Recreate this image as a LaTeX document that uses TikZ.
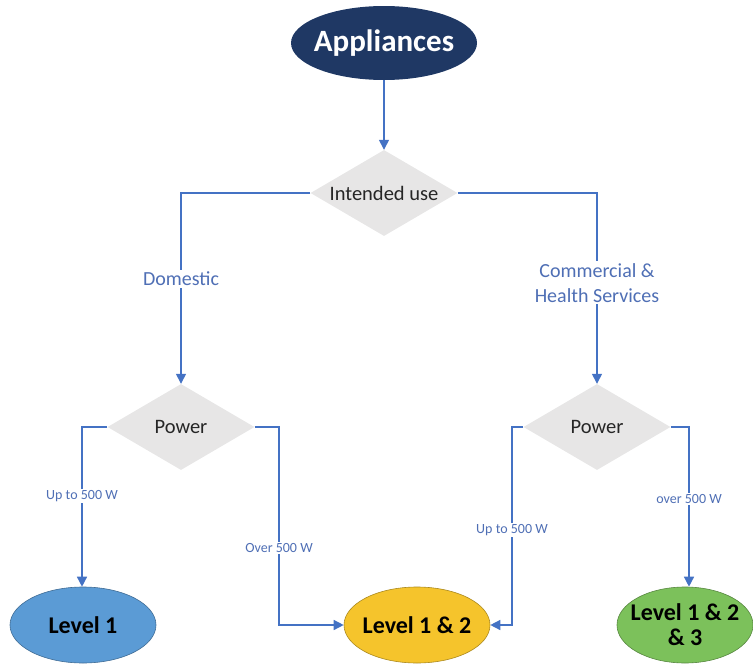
\documentclass[tikz,border=0pt]{standalone}
\usepackage{fontspec}
\setmainfont{Carlito}
\usetikzlibrary{shapes.geometric,arrows.meta}
\definecolor{navy}{HTML}{1F3864}
\definecolor{linkblue}{HTML}{4472C4}
\definecolor{labelblue}{HTML}{4F6FB5}
\definecolor{decgray}{HTML}{E7E6E6}
\definecolor{lvlblue}{HTML}{5B9BD5}
\definecolor{lvlyellow}{HTML}{F5C42C}
\definecolor{lvlgreen}{HTML}{7CC15B}
\tikzset{
  decision/.style={diamond, fill=decgray, minimum width=147pt, minimum height=86pt, aspect=1.7, inner sep=0pt, font=\fontsize{20.5}{24}\selectfont, text=black!85},
  outcome/.style={ellipse, draw=#1!70!black, line width=0.6pt, fill=#1, minimum width=146pt, minimum height=76pt, inner sep=-14pt, font=\bfseries\fontsize{24}{30}\selectfont, text=black, align=center},
  link/.style={draw=linkblue, line width=1.4pt, -{Triangle[length=10pt,width=10pt]}},
  bigtag/.style={fill=white, text=labelblue, font=\fontsize{20}{25}\selectfont, align=center, inner sep=2pt},
  smalltag/.style={fill=white, text=labelblue, font=\fontsize{14}{16}\selectfont, inner sep=1.5pt}
}
\begin{document}
\begin{tikzpicture}[x=1pt,y=-1pt]
\useasboundingbox (0,0) rectangle (753,664);

% root
\node[ellipse, fill=navy, minimum width=186pt, minimum height=74pt, inner sep=-14pt,
      text=white, font=\bfseries\fontsize{31}{34}\selectfont] (root) at (384,43) {Appliances};

% decisions
\node[decision] (use) at (384,193) {Intended use};
\node[decision] (pL) at (181,427) {Power};
\node[decision] (pR) at (597,427) {Power};

% outcomes
\node[outcome=lvlblue] (l1) at (83,625) {Level 1};
\node[outcome=lvlyellow] (l12) at (417,625) {Level 1 \& 2};
\node[outcome=lvlgreen, minimum width=136pt] (l123) at (685,625) {Level 1 \& 2\\[-5pt]\& 3};

% bend points
\coordinate (aL) at (82,427);
\coordinate (bL) at (279,427);
\coordinate (aR) at (512,427);
\coordinate (bR) at (689,427);

% connectors
\draw[link] (root.south) -- (use.north);
\draw[link] (use.west) -| (pL.north)
  node[pos=0.725, bigtag] {Domestic};
\draw[link] (use.east) -| (pR.north)
  node[pos=0.735, bigtag] {Commercial \&\\Health Services};

\draw[link] (pL.west) -- (aL) -- (aL |- l1.north)
  node[pos=0.43, smalltag] {Up to 500 W};
\draw[link] (pL.east) -- (bL) |- (l12.west)
  node[pos=0.305, smalltag] {Over 500 W};
\draw[link] (pR.west) -- (aR) |- (l12.east)
  node[pos=0.26, smalltag] {Up to 500 W};
\draw[link] (pR.east) -- (bR) -- (bR |- l123.north)
  node[pos=0.45, smalltag] {over 500 W};
\end{tikzpicture}
\end{document}
